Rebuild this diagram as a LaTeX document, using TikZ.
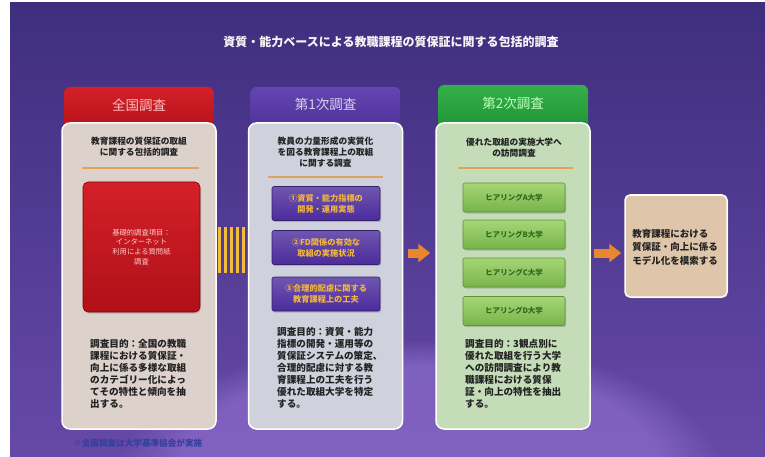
\documentclass[tikz,border=0pt]{standalone}
\usepackage{fontspec}
\setmainfont{Noto Sans CJK JP}
\usetikzlibrary{arrows.meta,calc,shadows,fadings}
\definecolor{bgtop}{HTML}{3F2E7E}
\definecolor{bgmid}{HTML}{4D3892}
\definecolor{bgbot}{HTML}{6649A8}
\definecolor{glow}{HTML}{8C6CCC}
\definecolor{redA}{HTML}{D42028}
\definecolor{redB}{HTML}{B01018}
\definecolor{purA}{HTML}{6446B2}
\definecolor{purB}{HTML}{4A2E94}
\definecolor{grnA}{HTML}{34B04A}
\definecolor{grnB}{HTML}{1E9032}
\definecolor{crm}{HTML}{DDD1CC}
\definecolor{lav}{HTML}{CFD1DD}
\definecolor{lgrn}{HTML}{C4DDB8}
\definecolor{beige}{HTML}{DFC6AA}
\definecolor{oline}{HTML}{E2A25E}
\definecolor{btnP}{HTML}{4B2C9C}
\definecolor{btnPtxt}{HTML}{F2B540}
\definecolor{btnGA}{HTML}{A6D676}
\definecolor{btnGB}{HTML}{78B44A}
\definecolor{btnGtxt}{HTML}{2F6A1E}
\definecolor{arrowc}{HTML}{E8872C}
\definecolor{stripe}{HTML}{F0BE3C}
\definecolor{txt}{HTML}{222222}
\definecolor{notec}{HTML}{34409C}
\begin{document}
\begin{tikzpicture}[x=1pt,y=-1pt,
  titlesty/.style={text=white!94!gray,font=\bfseries\fontsize{12}{14}\selectfont,inner sep=0},
  hdr/.style={rounded corners=6pt,minimum width=150pt,minimum height=48pt,inner sep=0},
  hdrtxt/.style={font=\fontsize{13.5}{15}\selectfont,inner sep=0},
  colbox/.style={rounded corners=8pt,draw=white,line width=1.5pt,minimum width=154pt,minimum height=306pt,inner sep=0},
  headtxt/.style={text=txt,font=\bfseries\fontsize{8.7}{11}\selectfont,align=center,inner sep=0},
  para/.style={text=txt,font=\bfseries\fontsize{9.6}{12}\selectfont,align=left,anchor=north west,inner sep=0},
  sep/.style={draw=oline,line width=2pt},
  redbox/.style={rounded corners=5pt,top color=redA,bottom color=redB,draw=red!50!black,line width=0.6pt,minimum width=117pt,minimum height=130pt,text=red!20!white,font=\fontsize{7.3}{9.7}\selectfont,align=center,inner sep=0,drop shadow={shadow xshift=1pt,shadow yshift=-1.5pt,opacity=0.35}},
  pbtn/.style={rounded corners=2pt,top color=btnP!80!white,bottom color=btnP,draw=btnP!70!black,line width=0.6pt,minimum width=108pt,minimum height=34pt,text=btnPtxt,font=\bfseries\fontsize{8.2}{11}\selectfont,align=center,inner sep=0,drop shadow={shadow xshift=1pt,shadow yshift=-1.5pt,opacity=0.4}},
  gbtn/.style={rounded corners=2pt,top color=btnGA,bottom color=btnGB,draw=btnGB!80!black,line width=0.6pt,minimum width=102pt,minimum height=29pt,text=btnGtxt,font=\bfseries\fontsize{7.5}{9}\selectfont,inner sep=0,drop shadow={shadow xshift=1pt,shadow yshift=-1.5pt,opacity=0.4}},
  finbox/.style={rounded corners=5pt,fill=beige,draw=white,line width=1.5pt,minimum width=102pt,minimum height=102pt,inner sep=0,drop shadow={shadow xshift=1.5pt,shadow yshift=-1.5pt,opacity=0.4}},
  fintxt/.style={text=txt,font=\bfseries\fontsize{9.5}{13.5}\selectfont,align=left,inner sep=0},
  bigarrow/.style={draw=arrowc,line width=9pt,-{Triangle[length=12pt,width=18pt]}},
  stripes/.style={draw=stripe,line width=46pt,dash pattern=on 3pt off 3pt}
]
\useasboundingbox (0,0) rectangle (765,457);
\fill[white] (0,0) rectangle (765,457);
\shade[top color=bgtop,middle color=bgmid,bottom color=bgbot] (10,3) rectangle (765,457);
\begin{scope}
\clip (10,3) rectangle (765,457);
\fill[glow,opacity=0.7,path fading=circle with fuzzy edge 20 percent] (420,470) ellipse [x radius=300,y radius=130];
\end{scope}

\node[titlesty] (title) at (391,42) {資質・能力ベースによる教職課程の質保証に関する包括的調査};

% headers
\node[hdr,top color=redA,bottom color=redB] (h1) at (139,111) {};
\node[hdr,top color=purA,bottom color=purB] (h2) at (325.5,111) {};
\node[hdr,top color=grnA,bottom color=grnB] (h3) at (513,109) {};
\node[hdrtxt,text=red!25!white] (h1t) at (139,105) {全国調査};
\node[hdrtxt,text=purA!25!white] (h2t) at (325.5,104) {第1次調査};
\node[hdrtxt,text=green!25!white] (h3t) at (513,103) {第2次調査};

% column bodies
\node[colbox,fill=crm] (c1) at (139,276) {};
\node[colbox,fill=lav] (c2) at (325.5,276) {};
\node[colbox,fill=lgrn] (c3) at (513,276) {};

% headings
\node[headtxt] (t1) at (139,147) {教育課程の質保証の取組\\に関する包括的調査};
\node[headtxt] (t2) at (325.5,152.5) {教員の力量形成の実質化\\を図る教育課程上の取組\\に関する調査};
\node[headtxt] (t3) at (514,147.5) {優れた取組の実施大学へ\\の訪問調査};
\draw[sep] (82,168) -- (199,168);
\draw[sep] (268,177) -- (383,177);
\draw[sep] (458,168) -- (573,168);

% column 1 content
\node[redbox] (rb) at (141.5,247) {基礎的調査項目：\\インターネット\\利用による質問紙\\調査};
\node[para] (p1) at (90,339) {調査目的：全国の教職\\課程における質保証・\\向上に係る多様な取組\\のカテゴリー化によっ\\てその特性と傾向を抽\\出する。};

% column 2 content
\node[pbtn] (b1) at (326,203.5) {①資質・能力指標の\\開発・運用実態};
\node[pbtn] (b2) at (326,247.5) {②FD関係の有効な\\取組の実施状況};
\node[pbtn] (b3) at (326,294) {③合理的配慮に関する\\教育課程上の工夫};
\node[para] (p2) at (277,327) {調査目的：資質・能力\\指標の開発・運用等の\\質保証システムの策定、\\合理的配慮に対する教\\育課程上の工夫を行う\\優れた取組大学を特定\\する。};

% column 3 content
\node[gbtn] (g1) at (514,197.5) {ヒアリングA大学};
\node[gbtn] (g2) at (514,234.5) {ヒアリングB大学};
\node[gbtn] (g3) at (514,272.5) {ヒアリングC大学};
\node[gbtn] (g4) at (514,311) {ヒアリングD大学};
\node[para] (p3) at (465,339) {調査目的：3観点別に\\優れた取組を行う大学\\への訪問調査により教\\職課程における質保\\証・向上の特性を抽出\\する。};

% final box
\node[finbox] (fin) at (676,246) {};
\node[fintxt] (fint) at (675,247) {教育課程における\\質保証・向上に係る\\モデル化を模索する};

% connectors
\draw[stripes] ([xshift=1pt,yshift=26pt]c1.east) -- ([yshift=26pt]c2.west);
\draw[bigarrow] ([xshift=5pt,yshift=23pt]c2.east) -- ([xshift=-5pt,yshift=23pt]c3.west);
\draw[bigarrow] ([xshift=3pt,yshift=23pt]c3.east) -- ([xshift=-3pt,yshift=-7pt]fin.west);

% note
\node[text=notec,font=\bfseries\fontsize{8.6}{10}\selectfont,anchor=west,inner sep=0] (note) at (73,443) {※全国調査は大学基準協会が実施};
\end{tikzpicture}
\end{document}
